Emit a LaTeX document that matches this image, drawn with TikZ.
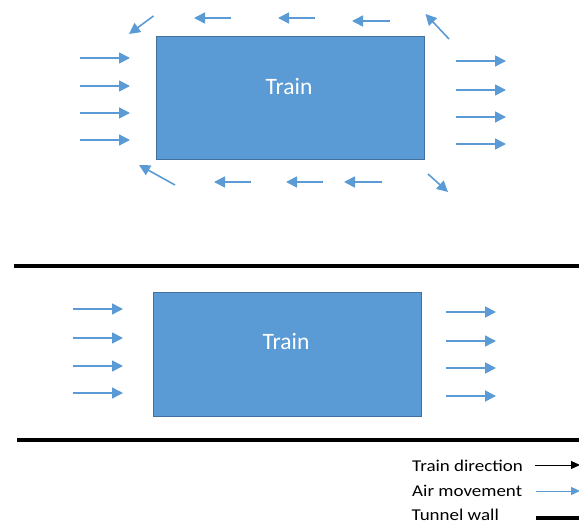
\documentclass[tikz,border=0pt]{standalone}
\usepackage{fontspec}
\setmainfont{Carlito}
\newfontfamily\legendfont{Carlito}[FakeStretch=1.15]
\usetikzlibrary{arrows.meta}
\definecolor{trainfill}{HTML}{5B9BD5}
\definecolor{trainedge}{HTML}{41719C}
\definecolor{airblue}{HTML}{5B9BD5}
\tikzset{
  trainbox/.style={draw=trainedge, line width=1pt, fill=trainfill, inner sep=0pt},
  trainlbl/.style={text=white, font=\fontsize{23.5}{26}\selectfont, inner sep=0pt, anchor=base},
  air/.style={draw=airblue, line width=1.6pt, -{Triangle[length=11pt, width=11pt]}},
  wall/.style={draw=black, line width=4pt},
  legendtxt/.style={font=\legendfont\fontsize{16.5}{18}\selectfont, inner sep=0pt, anchor=base west},
  trainarrow/.style={draw=black, line width=1pt, -{Triangle[length=9pt, width=8pt]}},
  airlegend/.style={draw=airblue, line width=1pt, -{Triangle[length=9pt, width=8pt]}},
}
\begin{document}
\begin{tikzpicture}[x=1pt, y=-1pt]
\useasboundingbox (0,0) rectangle (579,524);

% ---- open air: train with air flowing round it ----
\node[trainbox, minimum width=268pt, minimum height=123pt] (trainA) at (290,98.5) {};
\node[trainlbl] (trainAlbl) at (289,95) {Train};

% air pushed ahead of the train
\foreach \y in {58,86,113,140} \draw[air] (80,\y) -- (130,\y);
% wake behind the train
\foreach \y in {61,90,117,144} \draw[air] (456,\y) -- (506,\y);
% flow along the top
\draw[air] (231,18) -- (194,18);
\draw[air] (315,18) -- (278,18);
\draw[air] (390,21) -- (352,21);
% flow along the bottom
\draw[air] (251,182) -- (214,182);
\draw[air] (323,182) -- (286,182);
\draw[air] (382,182) -- (344,182);
% corners
\draw[air] (153.5,16) -- (129,34);
\draw[air] (449,39) -- (425.5,14);
\draw[air] (175,185) -- (139,165);
\draw[air] (428,174) -- (448,192);

% ---- tunnel: train between two walls ----
\draw[wall] (14,266) -- (579,266);
\draw[wall] (17,440) -- (579,440);
\node[trainbox, minimum width=268pt, minimum height=124pt] (trainB) at (287,354) {};
\node[trainlbl] (trainBlbl) at (286,349) {Train};
\foreach \y in {309,338,366,393} \draw[air] (73,\y) -- (123,\y);
\foreach \y in {312,341,368,396} \draw[air] (446,\y) -- (496,\y);

% ---- key ----
\node[legendtxt] (keyTrain) at (412,471) {Train direction};
\node[legendtxt] (keyAir) at (412,496.5) {Air movement};
\node[legendtxt] (keyWall) at (411.5,520) {Tunnel wall};
\coordinate (keyTrainEnd) at (580,465);
\coordinate (keyAirEnd) at (580,491);
\coordinate (keyWallEnd) at (579,518);
\draw[trainarrow] (535,465) -- (keyTrainEnd);
\draw[airlegend] (536,491) -- (keyAirEnd);
\draw[draw=black, line width=3.5pt] (536,518) -- (keyWallEnd);
\end{tikzpicture}
\end{document}
